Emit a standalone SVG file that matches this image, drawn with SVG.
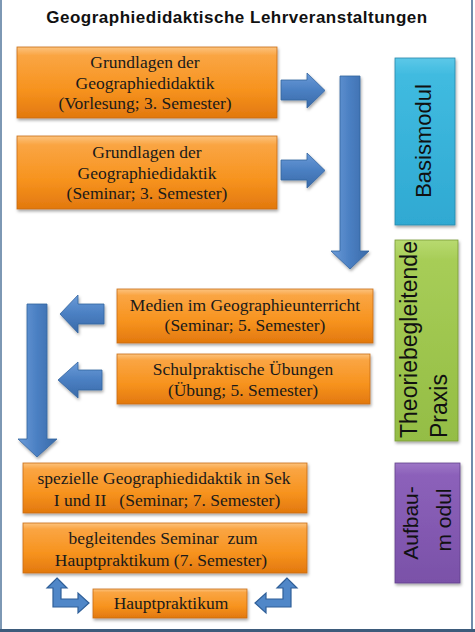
<svg xmlns="http://www.w3.org/2000/svg" width="475" height="632" viewBox="0 0 475 632">
<defs>
<linearGradient id="gOr" x1="0" y1="0" x2="0" y2="1">
<stop offset="0" stop-color="#fcc37e"/>
<stop offset="0.12" stop-color="#faa543"/>
<stop offset="0.6" stop-color="#f7931e"/>
<stop offset="1" stop-color="#e2780e"/>
</linearGradient>
<linearGradient id="gBlH" x1="0" y1="0" x2="0" y2="1">
<stop offset="0" stop-color="#6b9bd8"/>
<stop offset="0.5" stop-color="#4a7fc2"/>
<stop offset="1" stop-color="#3a6aa8"/>
</linearGradient>
<linearGradient id="gBlV" x1="0" y1="0" x2="1" y2="0">
<stop offset="0" stop-color="#6b9bd8"/>
<stop offset="0.5" stop-color="#4a7fc2"/>
<stop offset="1" stop-color="#3a6aa8"/>
</linearGradient>
<linearGradient id="gCy" x1="0" y1="0" x2="0" y2="1">
<stop offset="0" stop-color="#5cc8e8"/>
<stop offset="0.1" stop-color="#40bbe0"/>
<stop offset="1" stop-color="#2fa9d2"/>
</linearGradient>
<linearGradient id="gGr" x1="0" y1="0" x2="0" y2="1">
<stop offset="0" stop-color="#b8da70"/>
<stop offset="0.1" stop-color="#a7cd57"/>
<stop offset="1" stop-color="#94bd45"/>
</linearGradient>
<linearGradient id="gPu" x1="0" y1="0" x2="0" y2="1">
<stop offset="0" stop-color="#9d76c6"/>
<stop offset="0.1" stop-color="#8c61ba"/>
<stop offset="1" stop-color="#7a51a8"/>
</linearGradient>
<filter id="sh" x="-10%" y="-10%" width="120%" height="130%">
<feDropShadow dx="1" dy="2" stdDeviation="1.5" flood-color="#000" flood-opacity="0.35"/>
</filter>
</defs>
<style>
.ob{fill:url(#gOr);stroke:#c96d12;stroke-width:0.8;filter:url(#sh)}
.t{font-family:"Liberation Serif","DejaVu Serif",serif;font-size:17.5px;fill:#1a1a1a;text-anchor:middle;white-space:pre}
.v{font-family:"Liberation Sans",Arial,sans-serif;fill:#111}
.ah{fill:url(#gBlH);stroke:#3465a0;stroke-width:0.8;filter:url(#sh)}
.av{fill:url(#gBlV);stroke:#3465a0;stroke-width:0.8;filter:url(#sh)}
.bent{fill:#5087c8;stroke:#2f5f98;stroke-width:1.2}
</style>
<rect x="0" y="0" width="475" height="632" fill="#ffffff"/>
<line x1="1" y1="0" x2="1" y2="632" stroke="#7d98b4" stroke-width="2"/>
<line x1="472" y1="0" x2="472" y2="632" stroke="#6f8cab" stroke-width="2"/>
<line x1="0" y1="630.5" x2="475" y2="630.5" stroke="#3d5b7b" stroke-width="3"/>

<g id="title">
<text x="237" y="23" font-family="Liberation Sans, Arial, sans-serif" font-weight="bold" font-size="17" letter-spacing="0.5" text-anchor="middle" fill="#111">Geographiedidaktische Lehrveranstaltungen</text>
</g>

<g id="connectors">
<polygon class="ah" points="281,80 307,80 307,73 325,90.5 307,108 307,100 281,100"/>
<polygon class="ah" points="281,160 307,160 307,153 325,170.5 307,188 307,180 281,180"/>
<polygon class="av" points="340,76 360,76 360,251 369,251 350,269 331,251 340,251"/>
<polygon class="ah" points="104,304 78,304 78,295 60,314 78,333 78,324 104,324"/>
<polygon class="ah" points="102,370 78,370 78,362 58,380 78,398 78,390 102,390"/>
<polygon class="av" points="27,304 47,304 47,439 57,439 37,457 18,439 27,439"/>
<polygon class="bent" points="57,578 67,588 61,588 61,599 78,599 78,593 89,603 78,613 78,607 53,607 53,588 47,588"/>
<polygon class="bent" transform="translate(344,0) scale(-1,1)" points="57,578 67,588 61,588 61,599 78,599 78,593 89,603 78,613 78,607 53,607 53,588 47,588"/>
</g>

<g id="n-vorlesung">
<rect class="ob" x="17" y="47" width="260" height="71"/>
<text class="t" x="145" y="68">Grundlagen der</text>
<text class="t" x="145" y="89">Geographiedidaktik</text>
<text class="t" x="145" y="109">(Vorlesung; 3. Semester)</text>
</g>
<g id="n-seminar3">
<rect class="ob" x="17" y="136" width="260" height="73"/>
<text class="t" x="147" y="158">Grundlagen der</text>
<text class="t" x="147" y="179">Geographiedidaktik</text>
<text class="t" x="147" y="199">(Seminar; 3. Semester)</text>
</g>
<g id="n-medien">
<rect class="ob" x="117" y="289" width="256" height="54"/>
<text class="t" x="245" y="311">Medien im Geographieunterricht</text>
<text class="t" x="245" y="331">(Seminar; 5. Semester)</text>
</g>
<g id="n-spue">
<rect class="ob" x="117" y="354" width="253" height="50"/>
<text class="t" x="243" y="375">Schulpraktische Übungen</text>
<text class="t" x="243" y="396">(Übung; 5. Semester)</text>
</g>
<g id="n-speziell">
<rect class="ob" x="23" y="463" width="284" height="50"/>
<text class="t" x="164" y="484">spezielle Geographiedidaktik in Sek</text>
<text class="t" x="167" y="506">I und II   (Seminar; 7. Semester)</text>
</g>
<g id="n-begleit">
<rect class="ob" x="23" y="523" width="284" height="50"/>
<text class="t" x="163" y="544">begleitendes Seminar  zum</text>
<text class="t" x="161" y="566">Hauptpraktikum (7. Semester)</text>
</g>
<g id="n-haupt">
<rect class="ob" x="93" y="589" width="154" height="29"/>
<text class="t" x="171" y="609">Hauptpraktikum</text>
</g>

<g id="m-basis">
<rect x="395" y="58" width="60" height="167" fill="url(#gCy)" stroke="#2a88aa" stroke-width="0.8" filter="url(#sh)"/>
<text class="v" transform="translate(431,141) rotate(-90)" text-anchor="middle" font-size="22">Basismodul</text>
</g>
<g id="m-praxis">
<rect x="395" y="240" width="63" height="201" fill="url(#gGr)" stroke="#789a35" stroke-width="0.8" filter="url(#sh)"/>
<text class="v" transform="translate(417,438) rotate(-90)" font-size="23">Theoriebegleitende</text>
<text class="v" transform="translate(447,438) rotate(-90)" font-size="23">Praxis</text>
</g>
<g id="m-aufbau">
<rect x="395" y="463" width="65" height="120" fill="url(#gPu)" stroke="#63438c" stroke-width="0.8" filter="url(#sh)"/>
<text class="v" transform="translate(418,523) rotate(-90)" text-anchor="middle" font-size="21">Aufbau-</text>
<text class="v" transform="translate(451,520) rotate(-90)" text-anchor="middle" font-size="21">m odul</text>
</g>
</svg>
